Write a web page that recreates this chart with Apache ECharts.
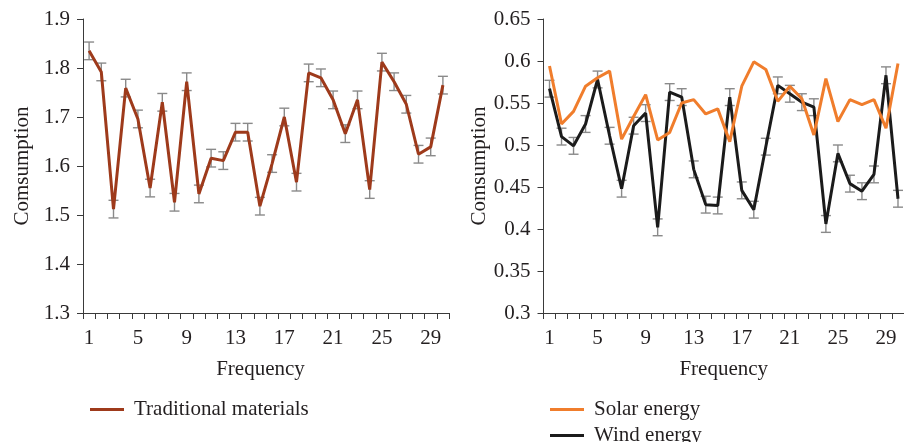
<!DOCTYPE html>
<html><head><meta charset="utf-8">
<script src="https://cdn.jsdelivr.net/npm/echarts@6/dist/echarts.min.js"></script>
<style>html,body{margin:0;padding:0;background:#fff}#c{width:904px;height:442px}</style>
</head><body><div id="c"></div>
<script>
const categories = [1,2,3,4,5,6,7,8,9,10,11,12,13,14,15,16,17,18,19,20,21,22,23,24,25,26,27,28,29,30];
const traditional = [1.835,1.792,1.512,1.759,1.696,1.555,1.730,1.526,1.772,1.543,1.616,1.611,1.669,1.669,1.518,1.605,1.700,1.567,1.790,1.780,1.735,1.666,1.735,1.552,1.812,1.772,1.726,1.624,1.639,1.765];
const traditionalErr = [0.018,0.018,0.018,0.018,0.018,0.018,0.018,0.018,0.018,0.018,0.018,0.018,0.018,0.018,0.018,0.018,0.018,0.018,0.018,0.018,0.018,0.018,0.018,0.018,0.018,0.018,0.018,0.018,0.018,0.018];
const solar = [0.594,0.525,0.540,0.570,0.580,0.588,0.507,0.534,0.560,0.506,0.515,0.550,0.554,0.537,0.543,0.504,0.570,0.599,0.590,0.552,0.570,0.555,0.512,0.579,0.528,0.554,0.548,0.554,0.520,0.597];
const wind = [0.567,0.510,0.499,0.525,0.578,0.511,0.448,0.523,0.538,0.402,0.563,0.557,0.471,0.429,0.428,0.557,0.446,0.423,0.498,0.571,0.561,0.551,0.545,0.406,0.490,0.454,0.445,0.465,0.583,0.436];
const windErr = [0.010,0.010,0.010,0.010,0.010,0.010,0.010,0.010,0.010,0.010,0.010,0.010,0.010,0.010,0.010,0.010,0.010,0.010,0.010,0.010,0.010,0.010,0.010,0.010,0.010,0.010,0.010,0.010,0.010,0.010];

const FONT = 'Liberation Serif';
const TXT = '#231f20';
const AX = '#3a3a3a';

function errData(vals, errs){ return vals.map((v,i)=>[i, v, errs[i]]); }
function errRender(params, api){
  const i = api.value(0), v = api.value(1), e = api.value(2);
  const top = api.coord([i, v+e]), bot = api.coord([i, v-e]);
  const hw = 5;
  const st = {stroke:'#8a8a8a', lineWidth:1.4};
  return {type:'group', children:[
    {type:'line', shape:{x1:top[0],y1:top[1],x2:bot[0],y2:bot[1]}, style:st},
    {type:'line', shape:{x1:top[0]-hw,y1:top[1],x2:top[0]+hw,y2:top[1]}, style:st},
    {type:'line', shape:{x1:bot[0]-hw,y1:bot[1],x2:bot[0]+hw,y2:bot[1]}, style:st}
  ]};
}
function xAx(gi, nameShift){
  return {type:'category', gridIndex:gi, data:categories, boundaryGap:true,
    name:'Frequency', nameLocation:'middle', nameGap:46,
    nameTextStyle:{fontFamily:FONT,fontSize:21,color:TXT,padding:[0,nameShift,0,0]},
    axisLine:{lineStyle:{color:AX,width:1}},
    axisTick:{show:true,interval:0,length:6,lineStyle:{color:AX}},
    axisLabel:{interval:3,margin:15,fontFamily:FONT,fontSize:21,color:TXT},
    splitLine:{show:false}};
}
function yAx(gi, min, max, step, gap){
  return {type:'value', gridIndex:gi, min:min, max:max, interval:step,
    name:'Comsumption', nameLocation:'middle', nameGap:gap,
    nameTextStyle:{fontFamily:FONT,fontSize:21,color:TXT},
    axisLine:{show:true,lineStyle:{color:AX,width:1}},
    axisTick:{show:true,length:6,lineStyle:{color:AX}},
    axisLabel:{margin:13,fontFamily:FONT,fontSize:21,color:TXT},
    splitLine:{show:false}};
}
function leg(name, left, top){
  return {data:[name], left:left, top:top, icon:'rect', itemWidth:34, itemHeight:3,
    textStyle:{fontFamily:FONT,fontSize:21,color:TXT,padding:[0,0,0,5]}};
}
const chart = echarts.init(document.getElementById('c'), null, {renderer:'canvas'});
chart.setOption({
  animation:false,
  backgroundColor:'#fff',
  grid:[{left:83,top:19,width:366,height:294},{left:543.5,top:19,width:366,height:294}],
  xAxis:[xAx(0,11), xAx(1,0)],
  yAxis:[yAx(0,1.3,1.9,0.1,50), yAx(1,0.3,0.65,0.05,52)],
  legend:[
    leg('Traditional materials', 85, 394),
    leg('Solar energy', 545, 394),
    leg('Wind energy', 545, 420)
  ],
  series:[
    {type:'custom', xAxisIndex:0, yAxisIndex:0, data:errData(traditional, traditionalErr), renderItem:errRender, encode:{x:0,y:1}, z:1, silent:true},
    {name:'Traditional materials', type:'line', xAxisIndex:0, yAxisIndex:0, data:traditional, showSymbol:false, symbol:'none',
     lineStyle:{color:'#9e3a1b', width:3}, itemStyle:{color:'#9e3a1b'}, z:3},
    {name:'Solar energy', type:'line', xAxisIndex:1, yAxisIndex:1, data:solar, showSymbol:false, symbol:'none',
     lineStyle:{color:'#f07d2c', width:3}, itemStyle:{color:'#f07d2c'}, z:4},
    {type:'custom', xAxisIndex:1, yAxisIndex:1, data:errData(wind, windErr), renderItem:errRender, encode:{x:0,y:1}, z:1, silent:true},
    {name:'Wind energy', type:'line', xAxisIndex:1, yAxisIndex:1, data:wind, showSymbol:false, symbol:'none',
     lineStyle:{color:'#1b1b1b', width:3}, itemStyle:{color:'#1b1b1b'}, z:3}
  ]
});
</script></body></html>
